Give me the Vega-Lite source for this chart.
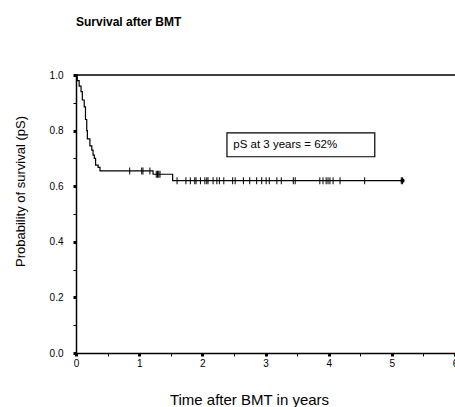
{
  "$schema": "https://vega.github.io/schema/vega-lite/v6.json",
  "width": 379,
  "height": 278,
  "autosize": "none",
  "padding": {"left": 76, "top": 75, "right": 0, "bottom": 54},
  "background": "white",
  "config": {
    "view": {"stroke": null},
    "font": "Liberation Sans"
  },
  "title": {
    "text": "Survival after BMT",
    "anchor": "start",
    "frame": "group",
    "baseline": "alphabetic",
    "offset": 32,
    "fontSize": 12,
    "fontWeight": "bold",
    "font": "Liberation Sans",
    "color": "black"
  },
  "datasets": {
    "curve": [
      {"t": 0, "s": 1.0},
      {"t": 0.02, "s": 0.98},
      {"t": 0.05, "s": 0.96},
      {"t": 0.08, "s": 0.94},
      {"t": 0.10, "s": 0.91},
      {"t": 0.13, "s": 0.885},
      {"t": 0.15, "s": 0.84},
      {"t": 0.17, "s": 0.80},
      {"t": 0.18, "s": 0.77},
      {"t": 0.22, "s": 0.745},
      {"t": 0.25, "s": 0.73},
      {"t": 0.27, "s": 0.712},
      {"t": 0.29, "s": 0.70},
      {"t": 0.31, "s": 0.676},
      {"t": 0.35, "s": 0.668},
      {"t": 0.38, "s": 0.655},
      {"t": 1.22, "s": 0.643},
      {"t": 1.53, "s": 0.62},
      {"t": 5.17, "s": 0.62}
    ],
    "censor": [
      {"t": 0.85, "s": 0.655},
      {"t": 1.04, "s": 0.655},
      {"t": 1.06, "s": 0.655},
      {"t": 1.17, "s": 0.655},
      {"t": 1.27, "s": 0.643},
      {"t": 1.29, "s": 0.643},
      {"t": 1.31, "s": 0.643},
      {"t": 1.33, "s": 0.643},
      {"t": 1.60, "s": 0.62},
      {"t": 1.74, "s": 0.62},
      {"t": 1.81, "s": 0.62},
      {"t": 1.88, "s": 0.62},
      {"t": 1.90, "s": 0.62},
      {"t": 1.97, "s": 0.62},
      {"t": 2.04, "s": 0.62},
      {"t": 2.07, "s": 0.62},
      {"t": 2.09, "s": 0.62},
      {"t": 2.17, "s": 0.62},
      {"t": 2.23, "s": 0.62},
      {"t": 2.27, "s": 0.62},
      {"t": 2.34, "s": 0.62},
      {"t": 2.48, "s": 0.62},
      {"t": 2.52, "s": 0.62},
      {"t": 2.65, "s": 0.62},
      {"t": 2.75, "s": 0.62},
      {"t": 2.86, "s": 0.62},
      {"t": 2.94, "s": 0.62},
      {"t": 3.01, "s": 0.62},
      {"t": 3.06, "s": 0.62},
      {"t": 3.18, "s": 0.62},
      {"t": 3.25, "s": 0.62},
      {"t": 3.44, "s": 0.62},
      {"t": 3.47, "s": 0.62},
      {"t": 3.86, "s": 0.62},
      {"t": 3.91, "s": 0.62},
      {"t": 3.96, "s": 0.62},
      {"t": 3.99, "s": 0.62},
      {"t": 4.02, "s": 0.62},
      {"t": 4.07, "s": 0.62},
      {"t": 4.18, "s": 0.62},
      {"t": 4.57, "s": 0.62},
      {"t": 5.15, "s": 0.62},
      {"t": 5.17, "s": 0.62}
    ],
    "endpoint": [{"t": 5.17, "s": 0.62}],
    "topline": [{"t": 0, "t2": 6, "s": 1.0}],
    "box": [{"t": 2.39, "t2": 4.73, "s": 0.706, "s2": 0.792}],
    "note": [{"t": 2.49, "s": 0.749, "label": "pS at 3 years = 62%"}]
  },
  "encoding": {
    "x": {
      "field": "t",
      "type": "quantitative",
      "scale": {"domain": [0, 6], "nice": false, "zero": false},
      "axis": {
        "title": "Time after BMT in years",
        "titleFontSize": 15,
        "titleFontWeight": "normal",
        "titleFont": "Liberation Sans",
        "titleColor": "black",
        "titleX": 173,
        "titleY": 51,
        "titleBaseline": "alphabetic",
        "titleAlign": "center",
        "values": [0, 0.5, 1, 1.5, 2, 2.5, 3, 3.5, 4, 4.5, 5, 5.5, 6],
        "labelExpr": "datum.value % 1 == 0 ? format(datum.value, 'd') : ''",
        "labelFontSize": 10,
        "labelColor": "black",
        "labelPadding": 2,
        "labelFlush": false,
        "labelOverlap": false,
        "tickSize": 3,
        "tickColor": "black",
        "tickWidth": {"condition": {"test": "datum.value % 1 == 0", "value": 3}, "value": 1},
        "domainColor": "black",
        "domainWidth": 1.5,
        "grid": false
      }
    },
    "y": {
      "field": "s",
      "type": "quantitative",
      "scale": {"domain": [0, 1], "nice": false},
      "axis": {
        "title": "Probability of survival (pS)",
        "titleFontSize": 13,
        "titleFontWeight": "normal",
        "titleFont": "Liberation Sans",
        "titleColor": "black",
        "titleAngle": -90,
        "titleX": -56,
        "titleY": 116,
        "titleAlign": "center",
        "titleBaseline": "middle",
        "values": [0, 0.1, 0.2, 0.3, 0.4, 0.5, 0.6, 0.7, 0.8, 0.9, 1.0],
        "labelExpr": "round(datum.value * 10) % 2 == 0 ? format(datum.value, '.1f') : ''",
        "labelFontSize": 10,
        "labelColor": "black",
        "labelPadding": 10,
        "labelFlush": false,
        "labelOverlap": false,
        "tickSize": 3,
        "tickColor": "black",
        "tickWidth": {"condition": {"test": "round(datum.value * 10) % 2 == 0", "value": 3}, "value": 1},
        "domainColor": "black",
        "domainWidth": 1.5,
        "grid": false
      }
    }
  },
  "layer": [
    {
      "data": {"name": "topline"},
      "mark": {"type": "rule", "color": "black", "strokeWidth": 1.5},
      "encoding": {"x2": {"field": "t2"}}
    },
    {
      "data": {"name": "curve"},
      "mark": {"type": "line", "interpolate": "step-after", "color": "black", "strokeWidth": 1.2}
    },
    {
      "data": {"name": "censor"},
      "mark": {"type": "tick", "orient": "vertical", "color": "black", "size": 7, "thickness": 1, "opacity": 1}
    },
    {
      "data": {"name": "endpoint"},
      "mark": {"type": "point", "filled": true, "color": "black", "size": 18, "opacity": 1}
    },
    {
      "data": {"name": "box"},
      "mark": {"type": "rect", "fill": "white", "stroke": "black", "strokeWidth": 1.2},
      "encoding": {"x2": {"field": "t2"}, "y2": {"field": "s2"}}
    },
    {
      "data": {"name": "note"},
      "mark": {"type": "text", "align": "left", "baseline": "middle", "fontSize": 11.5, "font": "Liberation Sans", "color": "black"},
      "encoding": {"text": {"field": "label"}}
    }
  ]
}
